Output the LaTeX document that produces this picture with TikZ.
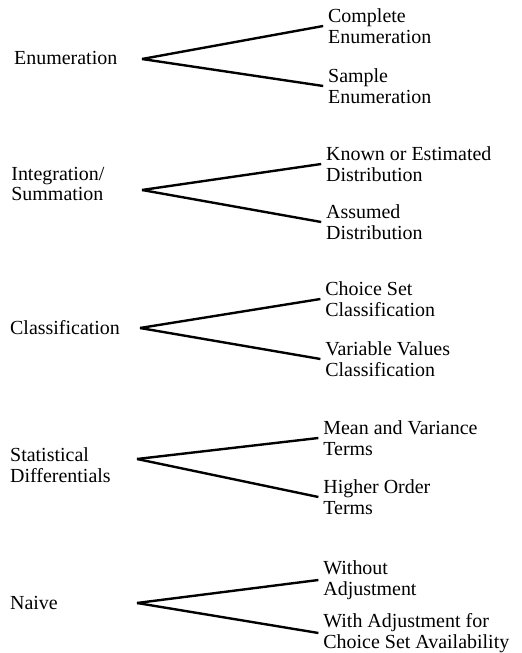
\documentclass[tikz,border=0pt]{standalone}
\usepackage{fontspec}
\setmainfont{Liberation Serif}

\begin{document}
\begin{tikzpicture}[
    every node/.style={font=\fontsize{14.2}{14.6}\selectfont, align=left, anchor=west},
    split/.style={line width=1.7pt}]
      \useasboundingbox (0,0) rectangle (13.05,16.325);

      % Enumeration with its two branches
      \node (enum) at (0.23,14.875) {Enumeration};
      \coordinate (enumfork) at (3.55,14.85);
      \node (enumcomp) at (8.08,15.675) {Complete\\Enumeration};
      \node (enumsamp) at (8.08,14.175) {Sample\\Enumeration};
      \path [split] (enumfork) edge (enumcomp.west) edge (enumsamp.west);

      % Integration/Summation with its two branches
      \node (integ) at (0.16,11.725) {Integration/\\Summation};
      \coordinate (integfork) at (3.55,11.575);
      \node (integknown) at (8.03,12.225) {Known or Estimated\\Distribution};
      \node (integassum) at (8.03,10.775) {Assumed\\Distribution};
      \path [split] (integfork) edge (integknown.west) edge (integassum.west);

      % Classification with its two branches
      \node (class) at (0.13,8.125) {Classification};
      \coordinate (classfork) at (3.5,8.125);
      \node (classchoice) at (8.01,8.85) {Choice Set\\Classification};
      \node (classvar) at (8.01,7.35) {Variable Values\\Classification};
      \path [split] (classfork) edge (classchoice.west) edge (classvar.west);

      % Statistical Differentials with its two branches
      \node (stat) at (0.13,4.7) {Statistical\\Differentials};
      \coordinate (statfork) at (3.425,4.85);
      \node (statmean) at (7.96,5.375) {Mean and Variance\\Terms};
      \node (stathigh) at (7.96,3.9) {Higher Order\\Terms};
      \path [split] (statfork) edge (statmean.west) edge (stathigh.west);

      % Naive with its two branches
      \node (naive) at (0.13,1.25) {Naive};
      \coordinate (naivefork) at (3.425,1.25);
      \node (naivewo) at (7.96,1.825) {Without\\Adjustment};
      \node (naivewith) at (7.96,0.5) {With Adjustment for\\Choice Set Availability};
      \path [split] (naivefork) edge (naivewo.west) edge (naivewith.west);
  \end{tikzpicture}
\end{document}
